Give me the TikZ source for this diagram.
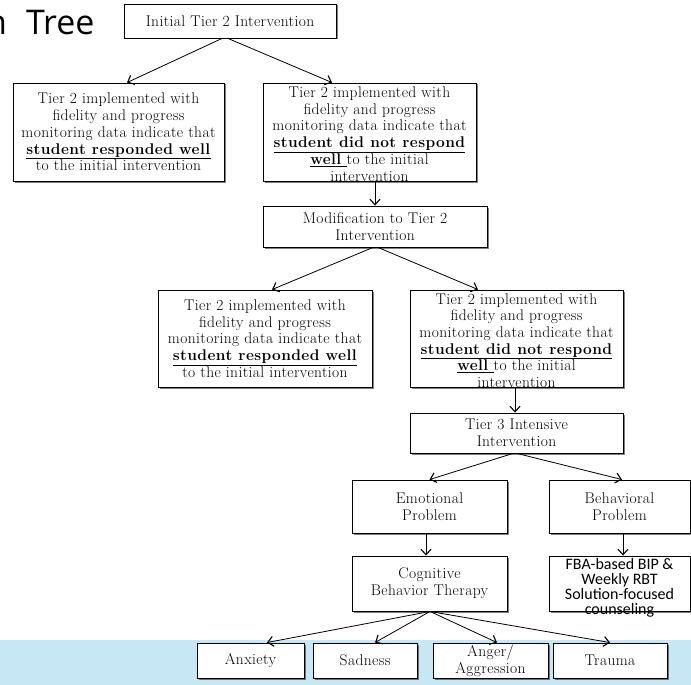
\documentclass[tikz,border=0pt]{standalone}
\usepackage{fontspec}
\setmainfont{Latin Modern Roman}[LetterSpace=2.5]
\newfontfamily\calib{Carlito}
\newfontfamily\titlefont{Open Sans}
\usetikzlibrary{arrows.meta,shadows}

\definecolor{bandblue}{RGB}{198,231,243}

\tikzset{
  box/.style={draw=black, line width=0.9pt, fill=white,
    drop shadow={shadow xshift=1.5pt, shadow yshift=-1.5pt, fill=black, opacity=0.5},
    inner sep=0pt, align=center, font=\bodyfont},
  txt/.style={align=center, inner sep=0pt, font=\bodyfont},
  fbatxt/.style={align=center, inner sep=0pt, font=\calib\fontsize{16}{15}\selectfont},
  link/.style={line width=0.8pt, -{Straight Barb[length=5.5pt,width=10pt,line width=1.1pt]}},
}
\newcommand\bodyfont{\fontsize{15.5}{16.7}\selectfont}
\newcommand\good{\underline{\textbf{student responded well}}}

\begin{document}
\begin{tikzpicture}[x=1pt,y=-1pt]
\useasboundingbox (0,0) rectangle (691,685);

% light band behind the last row
\fill[bandblue] (0,640) rectangle (691,685);

% heading fragment, running off the left edge
\node[font=\titlefont\fontsize{34}{34}\selectfont, anchor=base west, inner sep=0pt] (title) at (-14,35) {n\hspace{19pt}Tree};

% boxes
\node[box, minimum width=212pt, minimum height=34pt] (init) at (230,21) {Initial Tier 2 Intervention};

\node[box, minimum width=211pt, minimum height=98pt] (L1) at (118.5,132)
  {Tier 2 implemented with\\fidelity and progress\\monitoring data indicate that\\\good\\to the initial intervention};
\node[box, minimum width=213pt, minimum height=98pt] (R1) at (369.5,132) {};
\node[txt] (R1t) at ([yshift=-2pt]R1.center)
  {Tier 2 implemented with\\fidelity and progress\\monitoring data indicate that\\\underline{\textbf{student did not respond}}\\\underline{\textbf{well} }to the initial\\intervention};

\node[box, minimum width=224pt, minimum height=41pt] (mod) at (375,226.5) {Modification to Tier 2\\Intervention};

\node[box, minimum width=214pt, minimum height=97pt] (L2) at (265,338.5)
  {Tier 2 implemented with\\fidelity and progress\\monitoring data indicate that\\\good\\to the initial intervention};
\node[box, minimum width=213pt, minimum height=97pt] (R2) at (516.5,338.5) {};
\node[txt] (R2t) at ([yshift=-2pt]R2.center)
  {Tier 2 implemented with\\fidelity and progress\\monitoring data indicate that\\\underline{\textbf{student did not respond}}\\\underline{\textbf{well} }to the initial\\intervention};

\node[box, minimum width=213pt, minimum height=40pt] (t3) at (516.5,433) {Tier 3 Intensive\\Intervention};

\node[box, minimum width=155pt, minimum height=53pt] (emo) at (429.5,506.5) {Emotional\\Problem};
\node[box, minimum width=141pt, minimum height=53pt] (beh) at (619.5,506.5) {Behavioral\\Problem};

\node[box, minimum width=155pt, minimum height=55pt] (cbt) at (429.5,583.5) {Cognitive\\Behavior Therapy};
\node[box, minimum width=141pt, minimum height=55pt] (fba) at (619.5,583.5) {};
\node[fbatxt] (fbat) at ([yshift=-4pt]fba.center) {FBA-based BIP \&\\Weekly RBT\\Solution-focused\\counseling};

\node[box, minimum width=107pt, minimum height=35pt] (anx) at (250.5,660.5) {Anxiety};
\node[box, minimum width=104pt, minimum height=35pt] (sad) at (365,660.5) {Sadness};
\node[box, minimum width=115pt, minimum height=35pt] (ang) at (490.5,660.5) {Anger/\\Aggression};
\node[box, minimum width=114pt, minimum height=35pt] (tra) at (610,660.5) {Trauma};

% connectors
\draw[link] ([xshift=-8pt]init.south) -- ([xshift=8.5pt]L1.north);
\draw[link] ([xshift=-2pt]init.south) -- ([xshift=-37.5pt]R1.north);
\draw[link] ([xshift=5.5pt]R1.south) -- (mod.north);
\draw[link] ([xshift=-2pt]mod.south) -- ([xshift=7pt]L2.north);
\draw[link] ([xshift=3pt]mod.south) -- ([xshift=-38.5pt]R2.north);
\draw[link] ([xshift=-1.5pt]R2.south) -- ([xshift=-1.5pt]t3.north);
\draw[link] ([xshift=-3.5pt]t3.south) -- (emo.north);
\draw[link] ([xshift=0.5pt]t3.south) -- ([xshift=2.5pt]beh.north);
\draw[link] ([xshift=-3.5pt]emo.south) -- ([xshift=-3.5pt]cbt.north);
\draw[link] ([xshift=3.5pt]beh.south) -- ([xshift=3.5pt]fba.north);
\draw[link] ([xshift=0.5pt]cbt.south) -- ([xshift=16.5pt]anx.north);
\draw[link] ([xshift=0.5pt]cbt.south) -- ([xshift=10pt]sad.north);
\draw[link] ([xshift=0.5pt]cbt.south) -- ([xshift=6.5pt]ang.north);
\draw[link] ([xshift=0.5pt]cbt.south) -- (tra.north);
\end{tikzpicture}
\end{document}
